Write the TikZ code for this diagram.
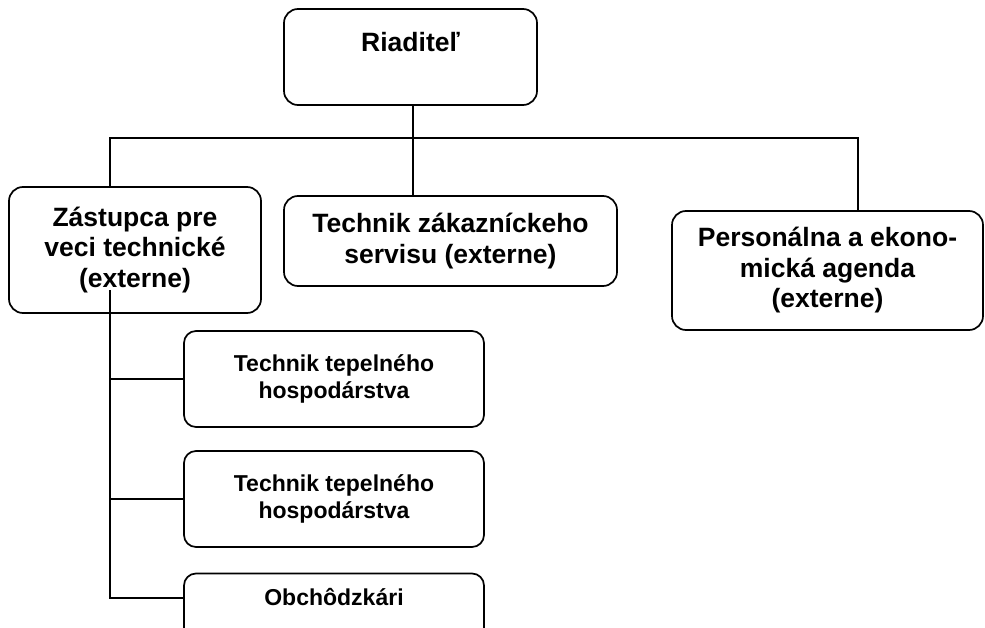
\documentclass[tikz,border=0pt]{standalone}
\usepackage{fontspec}
\setmainfont{Liberation Sans}
\usetikzlibrary{positioning}

\begin{document}
\begin{tikzpicture}[x=1pt,y=-1pt,
  box/.style={draw, line width=1.7pt, rounded corners=14pt, align=center, inner sep=0pt,
    font=\bfseries\fontsize{26.5}{30.5}\selectfont},
  subbox/.style={draw, line width=1.7pt, rounded corners=12pt, align=center, inner sep=0pt,
    minimum width=300pt, minimum height=96pt, font=\bfseries\fontsize{23}{27}\selectfont},
  conn/.style={line width=1.5pt}]
\useasboundingbox (0,0) rectangle (985,628);
\clip (0,0) rectangle (985,628);

\node (R) at (410.5,57) [box, minimum width=253pt, minimum height=96pt, text height=19pt, text depth=30pt] {Riaditeľ};

\node (Z) at (135,250) [box, minimum width=252pt, minimum height=126pt] {Zástupca pre\\veci technické\\(externe)};
\node (T) at (450.5,241) [box, minimum width=333pt, minimum height=90pt] {Technik zákazníckeho\\servisu (externe)};
\node (P) at (827.5,270.5) [box, minimum width=311pt, minimum height=119pt] {Personálna a ekono-\\mická agenda\\(externe)};

\node (S1) at (334,379) [subbox] {Technik tepelného\\hospodárstva};
\node (S2) at (334,499) [subbox] {Technik tepelného\\hospodárstva};
\node (S3) at (334,621.5) [subbox, text height=16.5pt, text depth=49.5pt] {Obchôdzkári};

% bus under the director
\coordinate (busL) at (110,138);
\coordinate (busR) at (858,138);
\draw[conn] ([xshift=2.5pt]R.south) -- ([xshift=2.5pt]R.south |- T.north);
\draw[conn] (busL |- Z.north) -- (busL) -- (busR) -- (busR |- P.north);

% branch of the deputy
\coordinate (trunk) at (110,290);
\coordinate (trunkEnd) at (110,598);
\draw[conn] (trunk) -- (trunkEnd) -- (trunkEnd -| S3.west);
\draw[conn] (trunk |- S1.west) -- (S1.west);
\draw[conn] (trunk |- S2.west) -- (S2.west);
\end{tikzpicture}
\end{document}
